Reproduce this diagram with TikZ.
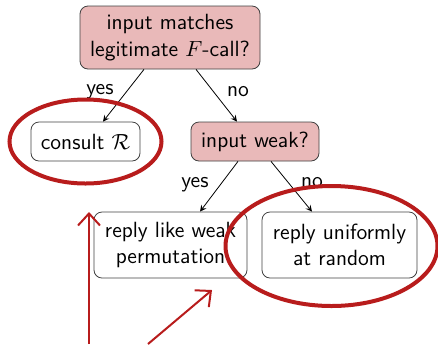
\documentclass[tikz,border=0pt]{standalone}
\usetikzlibrary{positioning,arrows.meta}
\renewcommand{\familydefault}{\sfdefault}
\definecolor{askpink}{HTML}{E9B9B9}
\definecolor{markred}{HTML}{B81C1C}

\begin{document}
\begin{tikzpicture}[>=stealth,x=0.5pt,y=-0.5pt,font=\fontsize{11}{13.2}\selectfont,
	box/.style={draw=black!75,rounded corners=4pt,align=center,inner sep=0pt},
	ask/.style={box,fill=askpink},
	edge/.style={->,thin},
	ring/.style={draw=markred,line width=2pt},
	markarrow/.style={draw=markred,line width=1pt,-{Straight Barb[length=6pt,width=11pt]}}]

\useasboundingbox (0,0) rectangle (438,344);

\node [ask,minimum width=90pt,minimum height=31.5pt] at (170,37.5) (q1) {input matches\\legitimate $F$-call?};
\node [box,minimum width=54.5pt,minimum height=19.5pt] at (85.5,141.5) (r1) {consult $\mathcal{R}$};
\node [ask,minimum width=64pt,minimum height=19.5pt] at (255,141.5) (q2) {input weak?};
\node [box,minimum width=76.5pt,minimum height=33pt] at (170.5,245) (r2) {reply like weak\\permutation};
\node [box,minimum width=77.5pt,minimum height=33pt] at (339.5,245) (r3) {reply uniformly\\at random};

\draw [edge] (q1.south) ++(-26,0) coordinate (q1l) -- (r1.north -| 103,0) coordinate (r1t);
\draw [edge] (q1.south) ++(26,0) coordinate (q1r) -- (q2.north -| 237,0) coordinate (q2t);
\draw [edge] (q2.south) ++(-17,0) coordinate (q2l) -- (r2.north -| 200,0) coordinate (r2t);
\draw [edge] (q2.south) ++(16,0) coordinate (q2r) -- (r3.north -| 312,0) coordinate (r3t);

\node at (100,92) (y1) {yes};
\node at (238,92) (n1) {no};
\node at (195,185) (y2) {yes};
\node at (312,183) (n2) {no};

%%%%%%%%%%%%%%%%%%%%%%%%%%%%%%%%%%%%%%%%%%%%%%%%%%%%%%%%%%%%%%%%

\draw [ring] (r1) ellipse [x radius=76,y radius=42];
\draw [ring] (r3.center) ++(-8,1) ellipse [x radius=106,y radius=60];

\coordinate (a1) at (89,344);
\coordinate (a2) at (148,344);
\coordinate (t1) at (89,212);
\coordinate (t2) at (212,290);
\draw [markarrow] (a1) -- (t1);
\draw [markarrow] (a2) -- (t2);

\end{tikzpicture}
\end{document}
